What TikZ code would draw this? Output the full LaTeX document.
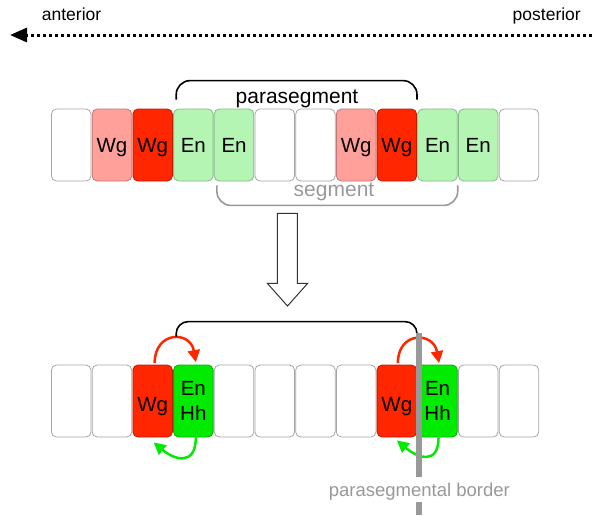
\documentclass[tikz,border=0pt]{standalone}
\usepackage{fontspec}
\setmainfont{Liberation Sans}
\usetikzlibrary{arrows.meta, positioning}

\definecolor{wgred}{RGB}{255,38,0}
\definecolor{wgpink}{RGB}{255,160,155}
\definecolor{enpale}{RGB}{180,245,180}
\definecolor{engreen}{RGB}{0,235,0}
\definecolor{bordergray}{RGB}{153,153,153}

\begin{document}
\begin{tikzpicture}[
    x=1pt, y=1pt,
    cell/.style = {rectangle, rounded corners=5pt, minimum width=39.5pt, minimum height=72pt,
                   inner sep=0pt, draw=black!35, line width=0.8pt, fill=white,
                   font=\fontsize{20.5}{25.7}\selectfont, align=center},
    oneline/.style = {text height=15pt, text depth=0pt},
    blank/.style = {cell},
    wgfaint/.style = {cell, oneline, fill=wgpink, draw=wgpink!75!black},
    wgstrong/.style = {cell, oneline, fill=wgred, draw=wgred!75!black},
    enfaint/.style = {cell, oneline, fill=enpale, draw=enpale!75!black},
    enstrong/.style = {cell, fill=engreen, draw=engreen!75!black},
    bracket/.style = {line width=1.6pt, rounded corners=14pt},
    caption/.style = {font=\fontsize{21}{25}\selectfont, inner sep=0pt, anchor=base},
    axisline/.style = {line width=3pt, dash pattern=on 3pt off 3pt, -{Triangle[length=17pt, width=14pt]}},
    wgsignal/.style = {-{Triangle[length=12pt, width=12pt]}, line width=2.5pt, draw=wgred},
    ensignal/.style = {-{Triangle[length=12pt, width=12pt]}, line width=2.5pt, draw=engreen},
    hollow/.style = {draw=black!80, line width=1pt, fill=white},
    border/.style = {line width=5.5pt, draw=bordergray}
]
\useasboundingbox (0, 0) rectangle (592, -515);

% Axis
\coordinate (posteriorEnd) at (592, -35);
\coordinate (anteriorEnd) at (10, -35);
\draw [axisline] (posteriorEnd) -- (anteriorEnd);
\node (anterior) [font=\fontsize{17.5}{21}\selectfont, inner sep=0pt, anchor=base west] at (41.7, -20) {anterior};
\node (posterior) [font=\fontsize{17.5}{21}\selectfont, inner sep=0pt, anchor=base east] at (581, -20) {posterior};

% Cells - top row
\node (t1) [blank] at (71.25, -145) {};
\node (t2) [wgfaint] at (111.95, -145) {Wg};
\node (t3) [wgstrong] at (152.65, -145) {Wg};
\node (t4) [enfaint] at (193.35, -145) {En};
\node (t5) [enfaint] at (234.05, -145) {En};
\node (t6) [blank] at (274.75, -145) {};
\node (t7) [blank] at (315.45, -145) {};
\node (t8) [wgfaint] at (356.15, -145) {Wg};
\node (t9) [wgstrong] at (396.85, -145) {Wg};
\node (t10) [enfaint] at (437.55, -145) {En};
\node (t11) [enfaint] at (478.25, -145) {En};
\node (t12) [blank] at (518.95, -145) {};

% Brackets - top row
\draw [bracket] ([xshift=3pt, yshift=9pt]t4.north west) -- ++(0, 19) -| ([yshift=9pt]t9.north east);
\node (parasegment) [caption] at (297, -103) {parasegment};
\draw [bracket, draw=bordergray] ([xshift=3pt, yshift=-4pt]t5.south west) -- ++(0, -20) -| ([yshift=-4pt]t10.south east);
\node (segment) [caption, text=bordergray] at (334, -196.7) {segment};

% Transition arrow
\draw [hollow] (277.3, -213.3) -- (297.3, -213.3) -- (297.3, -283.3) -- (307.7, -283.3)
    -- (287.5, -306) -- (267.3, -283.3) -- (277.3, -283.3) -- cycle;

% Cells - bottom row
\node (b1) [blank] at (71.25, -401) {};
\node (b2) [blank] at (111.95, -401) {};
\node (b3) [wgstrong, text height=20pt] at (152.65, -401) {Wg};
\node (b4) [enstrong] at (193.35, -401) {En\\Hh};
\node (b5) [blank] at (234.05, -401) {};
\node (b6) [blank] at (274.75, -401) {};
\node (b7) [blank] at (315.45, -401) {};
\node (b8) [blank] at (356.15, -401) {};
\node (b9) [wgstrong, text height=20pt] at (396.85, -401) {Wg};
\node (b10) [enstrong] at (437.55, -401) {En\\Hh};
\node (b11) [blank] at (478.25, -401) {};
\node (b12) [blank] at (518.95, -401) {};

% Signalling loops
\draw [wgsignal] ([xshift=2pt, yshift=1.5pt]b3.north) to[out=90, in=100, looseness=2] ([xshift=2.5pt, yshift=2.5pt]b4.north);
\draw [ensignal] ([xshift=2.5pt]b4.south) to[out=-90, in=-40, looseness=1.7] ([xshift=1pt, yshift=-5pt]b3.south);
\draw [wgsignal] ([xshift=1pt, yshift=1.5pt]b9.north) to[out=90, in=100, looseness=2] ([xshift=1.5pt, yshift=1.5pt]b10.north);
\draw [ensignal] ([xshift=1pt]b10.south) to[out=-90, in=-40, looseness=1.7] ([xshift=0pt, yshift=-3pt]b9.south);

% Bracket - bottom row
\draw [bracket, rounded corners=12pt] ([xshift=3pt, yshift=28pt]b4.north west) -- ++(0, 15) -| ([yshift=28pt]b9.north east);

% Parasegmental border
\coordinate (borderTop) at (418.8, -332.7);
\coordinate (borderBottom) at (418.8, -515);
\draw [border] (borderTop) -- (borderBottom);
\node (borderlabel) [font=\fontsize{18.5}{22}\selectfont, text=bordergray, fill=white, inner xsep=1pt, inner ysep=1pt,
    text height=18.5pt, text depth=4pt, anchor=base] at (419.4, -496.7) {parasegmental border};

\end{tikzpicture}
\end{document}
